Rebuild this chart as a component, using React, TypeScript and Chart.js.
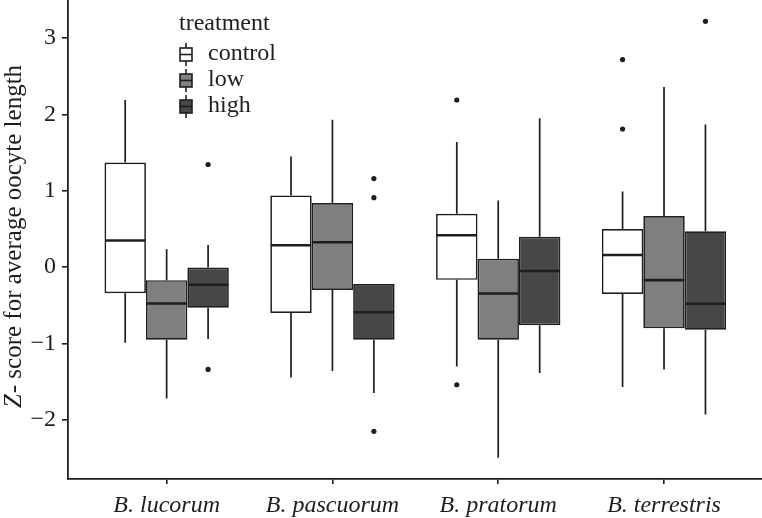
import React, { useEffect, useRef } from "react";
import { Chart, registerables } from "chart.js";

Chart.register(...registerables);

const species = ["B. lucorum", "B. pascuorum", "B. pratorum", "B. terrestris"];
const treatments = ["control", "low", "high"];
const yTicks = [-2, -1, 0, 1, 2, 3];

// box statistics per treatment, one value per species
const controlMin = [-0.99, -1.445, -1.3, -1.57];
const controlQ1 = [-0.34, -0.6, -0.166, -0.35];
const controlMed = [0.35, 0.287, 0.418, 0.16];
const controlQ3 = [1.37, 0.94, 0.7, 0.5];
const controlMax = [2.19, 1.45, 1.64, 0.99];
const controlOutliers = [[], [], [2.19, -1.54], [2.72, 1.81]];

const lowMin = [-1.72, -1.36, -2.495, -1.34];
const lowQ1 = [-0.95, -0.3, -0.95, -0.8];
const lowMed = [-0.475, 0.326, -0.345, -0.17];
const lowQ3 = [-0.17, 0.84, 0.11, 0.67];
const lowMax = [0.235, 1.93, 0.875, 2.36];
const lowOutliers = [[], [], [], []];

const highMin = [-0.94, -1.65, -1.385, -1.93];
const highQ1 = [-0.53, -0.95, -0.76, -0.82];
const highMed = [-0.23, -0.59, -0.05, -0.48];
const highQ3 = [-0.005, -0.22, 0.4, 0.47];
const highMax = [0.29, -0.22, 1.95, 1.87];
const highOutliers = [[1.345, -1.34], [1.16, 0.91, -2.15], [], [3.22]];

const fills = ["#ffffff", "#7f7f7f", "#474747"];
const INK = "#1e1e1e";
const FONT = "'Liberation Serif', 'Times New Roman', serif";
const CAT_PCT = 0.75;

const stats = [
  { min: controlMin, q1: controlQ1, med: controlMed, q3: controlQ3, max: controlMax, out: controlOutliers },
  { min: lowMin, q1: lowQ1, med: lowMed, q3: lowQ3, max: lowMax, out: lowOutliers },
  { min: highMin, q1: highQ1, med: highMed, q3: highQ3, max: highMax, out: highOutliers },
];

const boxPlugin = {
  id: "boxParts",
  beforeDatasetsDraw(chart: any) {
    const ctx = chart.ctx;
    const y = chart.scales.y;
    ctx.save();
    ctx.strokeStyle = INK;
    ctx.lineWidth = 1.7;
    stats.forEach((s, t) => {
      const meta = chart.getDatasetMeta(t);
      meta.data.forEach((el: any, i: number) => {
        const x = el.x;
        ctx.beginPath();
        ctx.moveTo(x, y.getPixelForValue(s.q3[i]));
        ctx.lineTo(x, y.getPixelForValue(s.max[i]));
        ctx.moveTo(x, y.getPixelForValue(s.q1[i]));
        ctx.lineTo(x, y.getPixelForValue(s.min[i]));
        ctx.stroke();
      });
    });
    ctx.restore();
  },
  afterDatasetsDraw(chart: any) {
    const ctx = chart.ctx;
    const y = chart.scales.y;
    ctx.save();
    ctx.strokeStyle = INK;
    ctx.lineWidth = 2.6;
    stats.forEach((s, t) => {
      const meta = chart.getDatasetMeta(t);
      meta.data.forEach((el: any, i: number) => {
        const half = el.width / 2;
        const py = y.getPixelForValue(s.med[i]);
        ctx.beginPath();
        ctx.moveTo(el.x - half + 0.5, py);
        ctx.lineTo(el.x + half - 0.5, py);
        ctx.stroke();
      });
    });
    ctx.restore();
  },
  afterDraw(chart: any) {
    const ctx = chart.ctx;
    ctx.save();
    // y axis title: italic Z followed by upright text
    const part1 = "Z";
    const part2 = "- score for average oocyte length";
    ctx.translate(21, 237);
    ctx.rotate(-Math.PI / 2);
    ctx.fillStyle = INK;
    ctx.textBaseline = "alphabetic";
    ctx.font = `italic 25px ${FONT}`;
    const w1 = ctx.measureText(part1).width;
    ctx.font = `25px ${FONT}`;
    const w2 = ctx.measureText(part2).width;
    const start = -(w1 + w2) / 2;
    ctx.font = `italic 25px ${FONT}`;
    ctx.fillText(part1, start, 0);
    ctx.font = `25px ${FONT}`;
    ctx.fillText(part2, start + w1 + 1, 0);
    ctx.restore();

    // legend
    ctx.save();
    ctx.fillStyle = INK;
    ctx.font = `24px ${FONT}`;
    ctx.textBaseline = "alphabetic";
    ctx.fillText("treatment", 179, 30);
    treatments.forEach((name, t) => {
      const top = 48 + t * 26;
      const gx = 180;
      ctx.strokeStyle = INK;
      ctx.lineWidth = 1.6;
      ctx.beginPath();
      ctx.moveTo(gx + 6, top - 5);
      ctx.lineTo(gx + 6, top + 18);
      ctx.stroke();
      ctx.fillStyle = fills[t];
      ctx.fillRect(gx, top, 12, 13);
      ctx.strokeRect(gx, top, 12, 13);
      ctx.beginPath();
      ctx.moveTo(gx, top + 6.5);
      ctx.lineTo(gx + 12, top + 6.5);
      ctx.stroke();
      ctx.fillStyle = INK;
      ctx.fillText(name, 208, top + 12);
    });
    ctx.restore();
  },
};

export default function App() {
  const ref = useRef<HTMLCanvasElement | null>(null);

  useEffect(() => {
    if (!ref.current) return;
    const barSets = stats.map((s, t) => ({
      type: "bar" as const,
      label: treatments[t],
      data: species.map((_, i) => ({ x: i + 1, y: [s.q1[i], s.q3[i]] })),
      backgroundColor: fills[t],
      borderColor: INK,
      borderWidth: 1.7,
      borderSkipped: false,
      categoryPercentage: CAT_PCT,
      barPercentage: 1,
    }));
    const outlierSets = stats.map((s, t) => ({
      type: "scatter" as const,
      label: treatments[t] + " outliers",
      data: s.out.flatMap((vals, i) =>
        vals.map((v) => ({ x: i + 1 + ((t - 1) * CAT_PCT) / treatments.length, y: v }))
      ),
      backgroundColor: INK,
      borderColor: INK,
      pointRadius: 2.6,
      borderWidth: 0,
    }));

    const chart = new Chart(ref.current, {
      type: "bar",
      data: { datasets: [...barSets, ...outlierSets] as any },
      options: {
        animation: false,
        responsive: false,
        events: [],
        layout: { padding: 0, autoPadding: false },
        plugins: { legend: { display: false }, tooltip: { enabled: false } },
        scales: {
          x: {
            type: "linear",
            offset: false,
            min: 0.405,
            max: 4.591,
            afterBuildTicks: (s: any) => {
              s.ticks = species.map((_, i) => ({ value: i + 1 }));
            },
            afterFit: (s: any) => {
              s.height = 39;
              s.paddingLeft = 0;
              s.paddingRight = 0;
            },
            ticks: {
              callback: (v: any) => species[Math.round(v) - 1] ?? "",
              font: { family: FONT, size: 24, style: "italic" },
              color: INK,
              padding: 7,
              maxRotation: 0,
              autoSkip: false,
            },
            grid: { display: true, offset: false, drawOnChartArea: false, drawTicks: true, tickLength: 5, color: INK, lineWidth: 1.6 },
            border: { display: true, color: INK, width: 1.8 },
          },
          y: {
            type: "linear",
            min: -2.775,
            max: 3.5,
            afterBuildTicks: (s: any) => {
              s.ticks = yTicks.map((v) => ({ value: v }));
            },
            afterFit: (s: any) => {
              s.width = 68;
              s.paddingTop = 0;
              s.paddingBottom = 0;
            },
            ticks: {
              callback: (v: any) => String(v).replace("-", "\u2212"),
              font: { family: FONT, size: 24 },
              color: INK,
              padding: 6,
            },
            grid: { display: true, drawOnChartArea: false, drawTicks: true, tickLength: 6, color: INK, lineWidth: 1.6 },
            border: { display: true, color: INK, width: 1.8 },
          },
        },
      } as any,
      plugins: [boxPlugin],
    });
    return () => chart.destroy();
  }, []);

  return (
    <div style={{ position: "fixed", left: 0, top: 0, width: 762, height: 518, background: "#fff" }}>
      <canvas ref={ref} width={762} height={518} style={{ display: "block" }} />
    </div>
  );
}
